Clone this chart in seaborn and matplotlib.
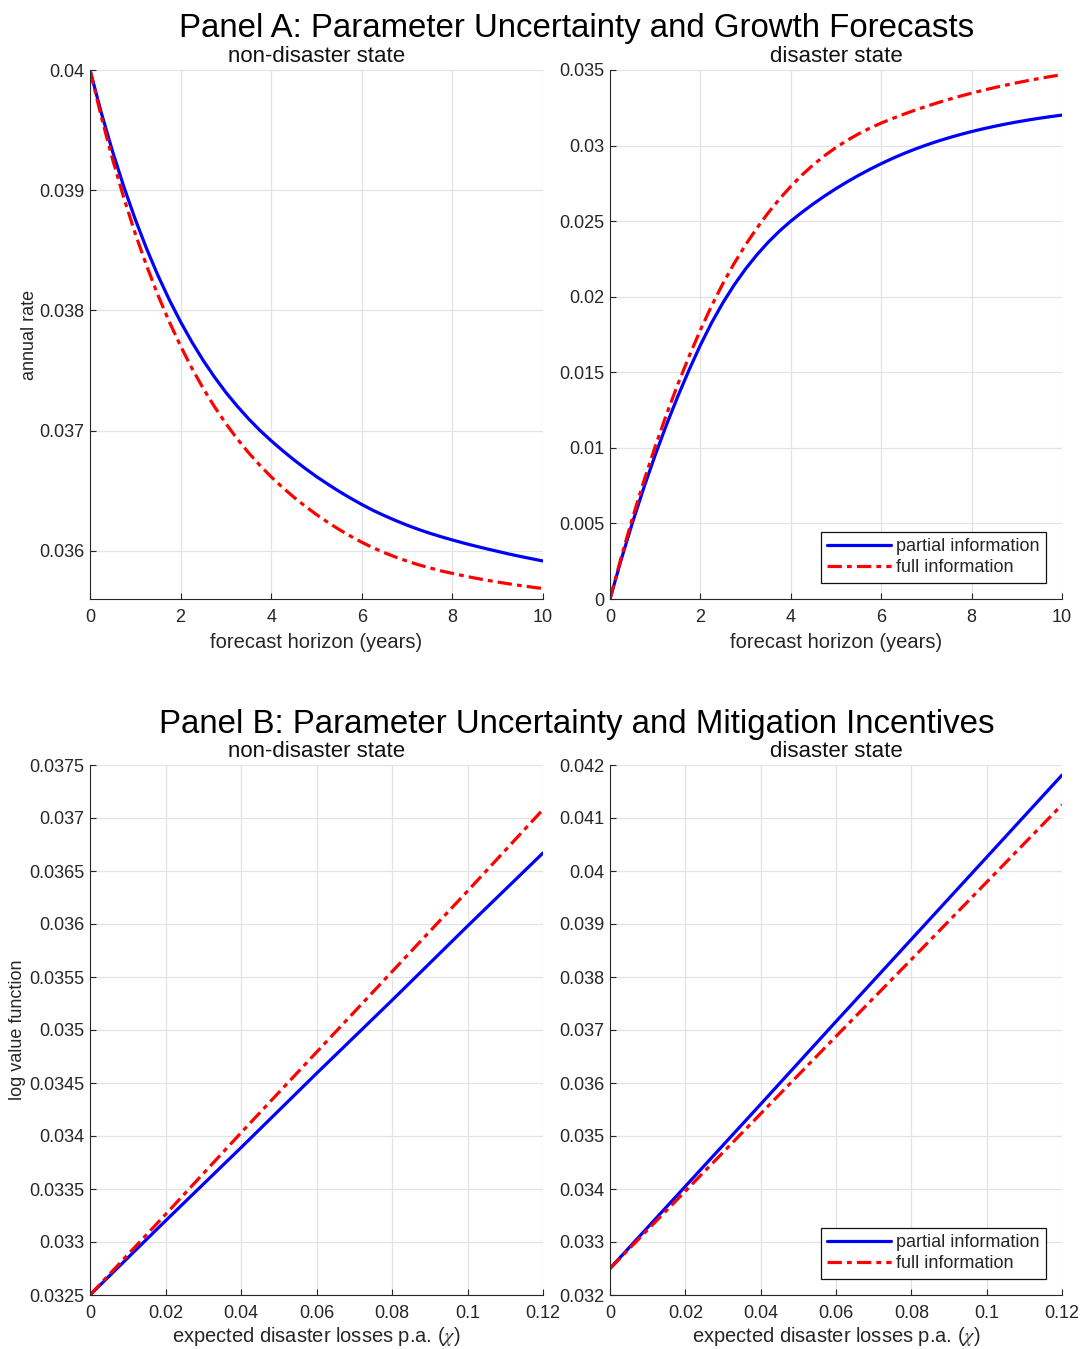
import numpy as np
import pandas as pd
import matplotlib
matplotlib.use("Agg")
import matplotlib.pyplot as plt
from matplotlib.ticker import FuncFormatter
import seaborn as sns

# panel A: growth forecasts, read every quarter year from 0 to 10
horizon = [i * 0.25 for i in range(41)]
nd_partial = [0.040000, 0.039644, 0.039320, 0.039025, 0.038757, 0.038513, 0.038291, 0.038089,
              0.037905, 0.037737, 0.037584, 0.037445, 0.037318, 0.037204, 0.037099, 0.037003,
              0.036916, 0.036835, 0.036758, 0.036686, 0.036618, 0.036555, 0.036495, 0.036439,
              0.036386, 0.036337, 0.036293, 0.036252, 0.036214, 0.036179, 0.036147, 0.036118,
              0.036091, 0.036065, 0.036041, 0.036018, 0.035996, 0.035974, 0.035954, 0.035935,
              0.035916]
nd_full = [0.040000, 0.039610, 0.039255, 0.038932, 0.038638, 0.038371, 0.038127, 0.037906,
           0.037704, 0.037519, 0.037351, 0.037198, 0.037059, 0.036932, 0.036817, 0.036712,
           0.036616, 0.036528, 0.036447, 0.036372, 0.036302, 0.036238, 0.036178, 0.036123,
           0.036072, 0.036026, 0.035985, 0.035948, 0.035915, 0.035885, 0.035859, 0.035834,
           0.035813, 0.035793, 0.035774, 0.035757, 0.035741, 0.035726, 0.035712, 0.035699,
           0.035687]
d_partial = [0.0, 0.002626, 0.005081, 0.007377, 0.009523, 0.011530, 0.013406, 0.015160,
             0.016800, 0.018288, 0.019612, 0.020791, 0.021840, 0.022774, 0.023605, 0.024344,
             0.025002, 0.025594, 0.026148, 0.026667, 0.027152, 0.027606, 0.028031, 0.028429,
             0.028802, 0.029151, 0.029472, 0.029767, 0.030039, 0.030289, 0.030519, 0.030731,
             0.030926, 0.031105, 0.031270, 0.031422, 0.031562, 0.031690, 0.031808, 0.031917,
             0.032017]
d_full = [0.0, 0.002782, 0.005383, 0.007815, 0.010089, 0.012215, 0.014203, 0.016062,
          0.017800, 0.019414, 0.020883, 0.022220, 0.023436, 0.024543, 0.025550, 0.026466,
          0.027300, 0.028060, 0.028736, 0.029338, 0.029874, 0.030351, 0.030775, 0.031153,
          0.031489, 0.031791, 0.032076, 0.032344, 0.032596, 0.032834, 0.033058, 0.033269,
          0.033468, 0.033655, 0.033831, 0.033997, 0.034154, 0.034301, 0.034440, 0.034571,
          0.034694]

# panel B: log value function vs expected disaster losses
chi = [0, 0.02, 0.04, 0.06, 0.08, 0.10, 0.12]
vnd_partial = [0.0325, 0.03320, 0.03389, 0.03459, 0.03528, 0.03598, 0.03667]
vnd_full = [0.0325, 0.03326, 0.03403, 0.03479, 0.03555, 0.03631, 0.03708]
vd_partial = [0.0325, 0.03405, 0.03560, 0.03716, 0.03871, 0.04026, 0.04181]
vd_full = [0.0325, 0.03396, 0.03542, 0.03688, 0.03833, 0.03979, 0.04125]

sns.set_style("white")
plt.rcParams['font.family'] = ['Liberation Sans', 'DejaVu Sans']
plt.rcParams['mathtext.fontset'] = 'stix'

BLUE = '#0000ff'
RED = '#ff0000'
DASHDOT = (4.5, 1.6, 1.5, 1.6)
INK = '#262626'

fig = plt.figure(figsize=(10.81, 13.49), dpi=100)
W, H = 1081, 1349


def make_ax(x0, y0, x1, y1):
    return fig.add_axes([x0 / W, 1 - y1 / H, (x1 - x0) / W, (y1 - y0) / H])


def g_fmt(v, pos):
    return '%g' % round(v, 6)


def style_ax(ax, title, xlim, xticks, ylim, yticks):
    ax.set_xlim(*xlim)
    ax.set_ylim(*ylim)
    ax.set_xticks(xticks)
    ax.set_yticks(yticks)
    ax.xaxis.set_major_formatter(FuncFormatter(g_fmt))
    ax.yaxis.set_major_formatter(FuncFormatter(g_fmt))
    ax.grid(True, color='#e3e3e3', linewidth=0.9)
    ax.set_axisbelow(True)
    for s in ['top', 'right']:
        ax.spines[s].set_visible(False)
    for s in ['left', 'bottom']:
        ax.spines[s].set_color(INK)
        ax.spines[s].set_linewidth(0.8)
    ax.tick_params(axis='x', direction='in', length=4, width=0.8, color=INK,
                   labelsize=13, pad=7.5, labelcolor=INK, bottom=True)
    ax.tick_params(axis='y', direction='in', length=4, width=0.8, color=INK,
                   labelsize=13, pad=4, labelcolor=INK, left=True)
    ax.set_title(title, fontsize=16, pad=6, color='#111111')


def draw(ax, x, yp, yf, legend):
    df = pd.DataFrame({'x': x, 'partial': yp, 'full': yf})
    sns.lineplot(data=df, x='x', y='partial', ax=ax, color=BLUE, lw=2.3,
                 label='partial information', legend=False)
    sns.lineplot(data=df, x='x', y='full', ax=ax, color=RED, lw=2.3,
                 label='full information', legend=False)
    ax.lines[-1].set_dashes(DASHDOT)
    ax.set_xlabel('')
    ax.set_ylabel('')
    if legend:
        leg = ax.legend(loc='lower right', fontsize=13, handlelength=3.5, handletextpad=0.3,
                        labelspacing=0.25, borderpad=0.35, borderaxespad=0.9,
                        fancybox=False, framealpha=1, edgecolor='#111111')
        leg.get_frame().set_linewidth(0.9)


# Panel A
ax1 = make_ax(90, 70, 543, 599)
draw(ax1, horizon, nd_partial, nd_full, False)
style_ax(ax1, 'non-disaster state', (0, 10), range(0, 11, 2), (0.0356, 0.04),
         np.arange(0.036, 0.04001, 0.001))
ax1.set_xlabel('forecast horizon (years)', fontsize=14.5, labelpad=5)
ax1.set_ylabel('annual rate', fontsize=13, labelpad=1)

ax2 = make_ax(610, 70, 1062, 599)
draw(ax2, horizon, d_partial, d_full, True)
style_ax(ax2, 'disaster state', (0, 10), range(0, 11, 2), (0, 0.035),
         np.arange(0, 0.03501, 0.005))
ax2.set_xlabel('forecast horizon (years)', fontsize=14.5, labelpad=5)

# Panel B
ax3 = make_ax(90, 765, 543, 1295)
draw(ax3, chi, vnd_partial, vnd_full, False)
style_ax(ax3, 'non-disaster state', (0, 0.12), np.arange(0, 0.1201, 0.02), (0.0325, 0.0375),
         np.arange(0.0325, 0.03751, 0.0005))
ax3.set_xlabel(r'expected disaster losses p.a. ($\chi$)', fontsize=14.5, labelpad=2)
ax3.set_ylabel('log value function', fontsize=13, labelpad=2)

ax4 = make_ax(610, 765, 1062, 1295)
draw(ax4, chi, vd_partial, vd_full, True)
style_ax(ax4, 'disaster state', (0, 0.12), np.arange(0, 0.1201, 0.02), (0.032, 0.042),
         np.arange(0.032, 0.04201, 0.001))
ax4.set_xlabel(r'expected disaster losses p.a. ($\chi$)', fontsize=14.5, labelpad=2)

fig.text(577 / W, 1 - 28 / H, 'Panel A: Parameter Uncertainty and Growth Forecasts',
         ha='center', va='center', fontsize=23.8, color='#000000')
fig.text(577 / W, 1 - 725 / H, 'Panel B: Parameter Uncertainty and Mitigation Incentives',
         ha='center', va='center', fontsize=23.8, color='#000000')

fig.savefig('out.png', dpi=100)
